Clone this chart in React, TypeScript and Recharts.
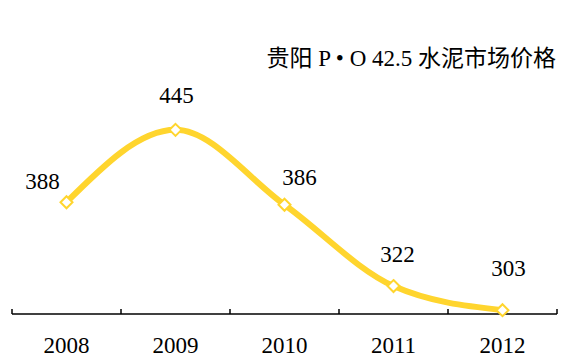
import React from "react";
import { LineChart, Line, XAxis, YAxis, LabelList } from "recharts";

const years = ["2008", "2009", "2010", "2011", "2012"];
const prices = [388, 445, 386, 322, 303];

const data = years.map((year, i) => ({ year, price: prices[i] }));

const LINE_COLOR = "#FFD52E";
const FONT = "Liberation Serif, Times New Roman, Times, DejaVu Serif, Noto Sans CJK SC, serif";
const HALF_BAND = 54.5;

// per-point label offsets (dx, baseline above point)
const labelOffsets: [number, number][] = [
  [-24, 13],
  [1, 27],
  [15, 20],
  [4, 24],
  [6, 34],
];

function Diamond(props: any) {
  const { cx, cy, index } = props;
  if (cx == null || cy == null) return null;
  const r = 6;
  return (
    <polygon
      key={`d-${index}`}
      points={`${cx},${cy - r} ${cx + r},${cy} ${cx},${cy + r} ${cx - r},${cy}`}
      fill="#fff"
      stroke={LINE_COLOR}
      strokeWidth={2}
    />
  );
}

function PriceLabel(props: any) {
  const { x, y, value, index } = props;
  const [dx, up] = labelOffsets[index] || [0, 20];
  return (
    <text x={x + dx} y={y - up} textAnchor="middle" style={{ fontSize: 23, fontFamily: FONT }} fill="#000">
      {value}
    </text>
  );
}

// year label plus the tick marks sitting between categories
function YearTick(props: any) {
  const { x, y, payload, index } = props;
  const last = index === years.length - 1;
  return (
    <g>
      <line x1={x - HALF_BAND} x2={x - HALF_BAND} y1={y - 5} y2={y} stroke="#000" strokeWidth={1.5} />
      {last && <line x1={x + HALF_BAND} x2={x + HALF_BAND} y1={y - 5} y2={y} stroke="#000" strokeWidth={1.5} />}
      <text x={x} y={y + 39} textAnchor="middle" style={{ fontSize: 23, fontFamily: FONT }} fill="#000">
        {payload.value}
      </text>
    </g>
  );
}

export default function App() {
  return (
    <div style={{ position: "absolute", left: 0, top: 0, width: 580, height: 364, background: "#fff", fontFamily: FONT }}>
      <LineChart width={580} height={364} data={data} margin={{ top: 60, right: 23, left: 12, bottom: 0 }}>
        <XAxis
          dataKey="year"
          height={50}
          padding={{ left: HALF_BAND, right: HALF_BAND }}
          tickSize={0}
          tickMargin={0}
          tickLine={false}
          axisLine={{ stroke: "#000", strokeWidth: 1.5 }}
          interval={0}
          tick={<YearTick />}
        />
        <YAxis hide domain={[300, 500]} />
        <Line
          type="monotone"
          dataKey="price"
          stroke={LINE_COLOR}
          strokeWidth={6}
          dot={<Diamond />}
          activeDot={false}
          isAnimationActive={false}
        >
          <LabelList dataKey="price" content={<PriceLabel />} />
        </Line>
      </LineChart>
      <svg width={580} height={364} style={{ position: "absolute", left: 0, top: 0, pointerEvents: "none" }}>
        <text x={556} y={66} textAnchor="end" style={{ fontSize: 23, fontFamily: FONT }} fill="#000">
          贵阳 P • O 42.5 水泥市场价格
        </text>
      </svg>
    </div>
  );
}
